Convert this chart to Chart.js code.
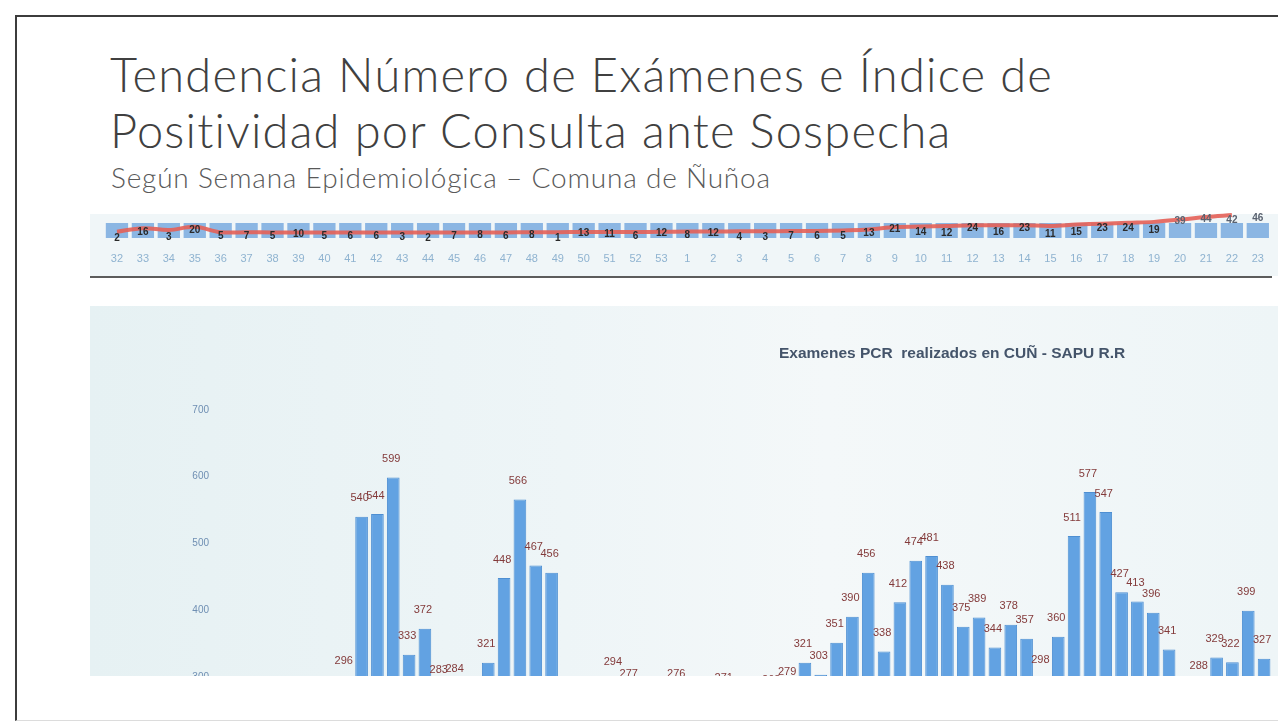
<!DOCTYPE html>
<html lang="es">
<head>
<meta charset="utf-8">
<title>Tendencia Número de Exámenes e Índice de Positividad</title>
<script src="https://cdn.jsdelivr.net/npm/chart.js@4.4.0/dist/chart.umd.min.js"></script>
<style>
  html, body { margin: 0; padding: 0; background: #fff; }
  body { width: 1278px; height: 723px; position: relative; overflow: hidden; font-family: "Lato", "Open Sans", sans-serif; }
  #frame { position: absolute; left: 15px; top: 15px; width: 1300px; height: 703px; border-left: 2px solid #3c3c3c; border-top: 2px solid #3c3c3c; border-bottom: 1px solid #dcdcdc; }
  #title { position: absolute; left: 110px; top: 46px; font-weight: 300; font-size: 47px; letter-spacing: 1.2px; line-height: 56px; color: #404040; white-space: nowrap; }
  #subtitle { position: absolute; left: 111px; top: 160px; font-weight: 300; font-size: 28px; letter-spacing: 0.8px; color: #595959; white-space: nowrap; }
  #strip { position: absolute; left: 90px; top: 214px; width: 1188px; height: 62px; background: #f0f6f8; }
  #strip-chart { position: absolute; left: 90px; top: 205px; }
  #strip-rule { position: absolute; left: 90px; top: 276px; width: 1182px; height: 2px; background: #5c5c5c; }
  #panel { position: absolute; left: 90px; top: 306px; width: 1188px; height: 370px; overflow: hidden;
           background: linear-gradient(90deg, #e6f1f3 0%, #eef5f7 40%, #f4f8f9 62%, #eef5f7 100%); }
  #panel canvas { position: absolute; left: 0; top: 0; }
  #panel-title { position: absolute; left: 779px; top: 344px; font-family: "Liberation Sans Narrow", "Arial Narrow", sans-serif;
                 font-weight: bold; font-size: 15.5px; color: #44546a; white-space: nowrap; }
</style>
</head>
<body>
<div id="frame"></div>
<div id="title">Tendencia Número de Exámenes e Índice de<br>Positividad por Consulta ante Sospecha</div>
<div id="subtitle">Según Semana Epidemiológica – Comuna de Ñuñoa</div>

<div id="strip"></div>
<canvas id="strip-chart" width="1188" height="72"></canvas>
<div id="strip-rule"></div>

<div id="panel"><canvas id="pcr-chart" width="1188" height="587"></canvas></div>
<div id="panel-title">Examenes PCR&nbsp; realizados en CUÑ - SAPU R.R</div>

<script>
// Semanas epidemiológicas (franja superior)
const semanas = ["32", "33", "34", "35", "36", "37", "38", "39", "40", "41", "42", "43", "44", "45", "46",
  "47", "48", "49", "50", "51", "52", "53", "1", "2", "3", "4", "5", "6", "7", "8", "9", "10", "11",
  "12", "13", "14", "15", "16", "17", "18", "19", "20", "21", "22", "23"];

// Índice de positividad (%) por semana (etiquetas negras)
const positividad = [2, 16, 3, 20, 5, 7, 5, 10, 5, 6, 6, 3, 2, 7, 8, 6, 8, 1, 13, 11, 6, 12,
  8, 12, 4, 3, 7, 6, 5, 13, 21, 14, 12, 24, 16, 23, 11, 15, 23, 24, 19, 39, 44, 42, 46];

// Línea roja de tendencia
const tendencia = [16, 24, 20, 27, 15, 15, 14.5, 14.5, 14.5, 14.5, 14.5, 14.5, 14.5, 14.5, 14.5, 14.5, 15, 15, 15.5, 15.5, 15.5, 16,
  16.5, 16.5, 17, 17, 17.5, 18, 19, 21, 26.5, 27.5, 29, 30.5, 30.5, 30.5, 29, 32, 34, 36, 38, 43, 49, 53, null];

// Exámenes por semana (barras azules, solo se ve la base)
const examenesSemana = [310, 420, 380, 520, 1100, 1200, 1150, 1300, 1250, 1800, 2100, 1500, 1100, 1000, 1050,
  1900, 2300, 1200, 1000, 950, 900, 980, 1000, 1050, 990, 1010, 1100, 1150, 1400, 1700, 2000, 2200,
  2300, 2100, 1900, 1800, 1700, 2300, 2600, 2500, 2000, 1800, 1500, 1400, 1300];

// Examenes PCR realizados en CUÑ - SAPU R.R (gráfico inferior)
const periodos = ["1", "2", "3", "4", "5", "6", "7", "8", "9", "10", "11", "12", "13", "14", "15", "16", "17",
  "18", "19", "20", "21", "22", "23", "24", "25", "26", "27", "28", "29", "30", "31", "32", "33", "34",
  "35", "36", "37", "38", "39", "40", "41", "42", "43", "44", "45", "46", "47", "48", "49", "50", "51",
  "52", "53", "54", "55", "56", "57", "58", "59", "60", "61", "62", "63", "64", "65", "66"];
const examenesPCR = [120, 180, 210, 190, 230, 250, 240, 296,
  540, 544, 599, 333, 372, 283, 284, 250, 321, 448, 566, 467, 456,
  240, 230, 255, 294, 277, 245, 235, 276, 250, 240, 271, 245, 255, 268, 279,
  321, 303, 351, 390, 456, 338, 412, 474, 481, 438, 375, 389, 344, 378, 357, 298,
  360, 511, 577, 547, 427, 413, 396, 341, 255, 288, 329, 322, 399, 327];
const ticksPCR = [0, 100, 200, 300, 400, 500, 600, 700];

const narrow = '"Liberation Sans Narrow", "Arial Narrow", sans-serif';

// etiquetas de positividad sobre la línea
const positividadLabels = {
  id: "positividadLabels",
  afterDatasetsDraw(chart) {
    const { ctx } = chart;
    const x = chart.scales.x;
    const y = chart.scales.yPos;
    ctx.save();
    ctx.font = "bold 10px " + narrow;
    ctx.textAlign = "center";
    ctx.textBaseline = "middle";
    positividad.forEach((v, i) => {
      ctx.fillStyle = i >= 41 ? "#5a6270" : "#2a2a2a";
      ctx.fillText(String(v), x.getPixelForValue(i), y.getPixelForValue(v));
    });
    ctx.restore();
  },
};

// etiquetas de valor sobre las barras PCR
const barLabels = {
  id: "barLabels",
  afterDatasetsDraw(chart) {
    const { ctx } = chart;
    const meta = chart.getDatasetMeta(0);
    ctx.save();
    ctx.font = "11px " + narrow;
    ctx.fillStyle = "#833a3a";
    ctx.textAlign = "center";
    ctx.textBaseline = "bottom";
    meta.data.forEach((bar, i) => {
      const v = examenesPCR[i];
      if (v == null) return;
      ctx.fillText(String(v), bar.x - 2, bar.y - 13);
    });
    ctx.restore();
  },
};

new Chart(document.getElementById("strip-chart"), {
  type: "bar",
  data: {
    labels: semanas,
    datasets: [
      {
        type: "line",
        label: "Tendencia",
        data: tendencia,
        yAxisID: "yPos",
        borderColor: "rgba(228, 96, 86, 0.9)",
        borderWidth: 4,
        pointRadius: 0,
        tension: 0.35,
        clip: false,
        order: 1,
      },
      {
        label: "Exámenes",
        data: examenesSemana,
        yAxisID: "yBar",
        backgroundColor: "#8bb6e3",
        barPercentage: 0.86,
        categoryPercentage: 1,
        order: 2,
      },
    ],
  },
  options: {
    responsive: false,
    animation: false,
    layout: { padding: { left: 14, right: 6, top: 18, bottom: 0 } },
    plugins: { legend: { display: false }, tooltip: { enabled: false } },
    scales: {
      x: {
        grid: { display: false, drawTicks: false },
        border: { display: false },
        ticks: { color: "#8fb3d0", font: { family: narrow, size: 11 }, padding: 14, maxRotation: 0, autoSkip: false },
        afterFit(s) { s.height = 39; },
      },
      yBar: { display: false, min: 0, max: 100 },
      yPos: { display: false, min: 2.2, max: 35.5 },
    },
  },
  plugins: [positividadLabels],
});

new Chart(document.getElementById("pcr-chart"), {
  type: "bar",
  data: {
    labels: periodos,
    datasets: [
      {
        label: "Examenes PCR",
        data: examenesPCR,
        backgroundColor: "#62a2e2",
        borderColor: "#4e8fd2",
        borderWidth: 1,
        barPercentage: 0.8,
        categoryPercentage: 1,
      },
    ],
  },
  options: {
    responsive: false,
    animation: false,
    layout: { padding: { left: 0, right: 6, top: 104, bottom: 9 } },
    plugins: { legend: { display: false }, tooltip: { enabled: false } },
    scales: {
      x: { display: false },
      y: {
        min: 0,
        max: 700,
        grid: { display: false },
        border: { display: false },
        afterBuildTicks(s) { s.ticks = ticksPCR.map((v) => ({ value: v })); },
        ticks: { color: "#6f8fb3", font: { family: narrow, size: 10 }, padding: 10 },
        afterFit(s) { s.width = 137; },
      },
    },
  },
  plugins: [barLabels],
});
</script>
</body>
</html>
